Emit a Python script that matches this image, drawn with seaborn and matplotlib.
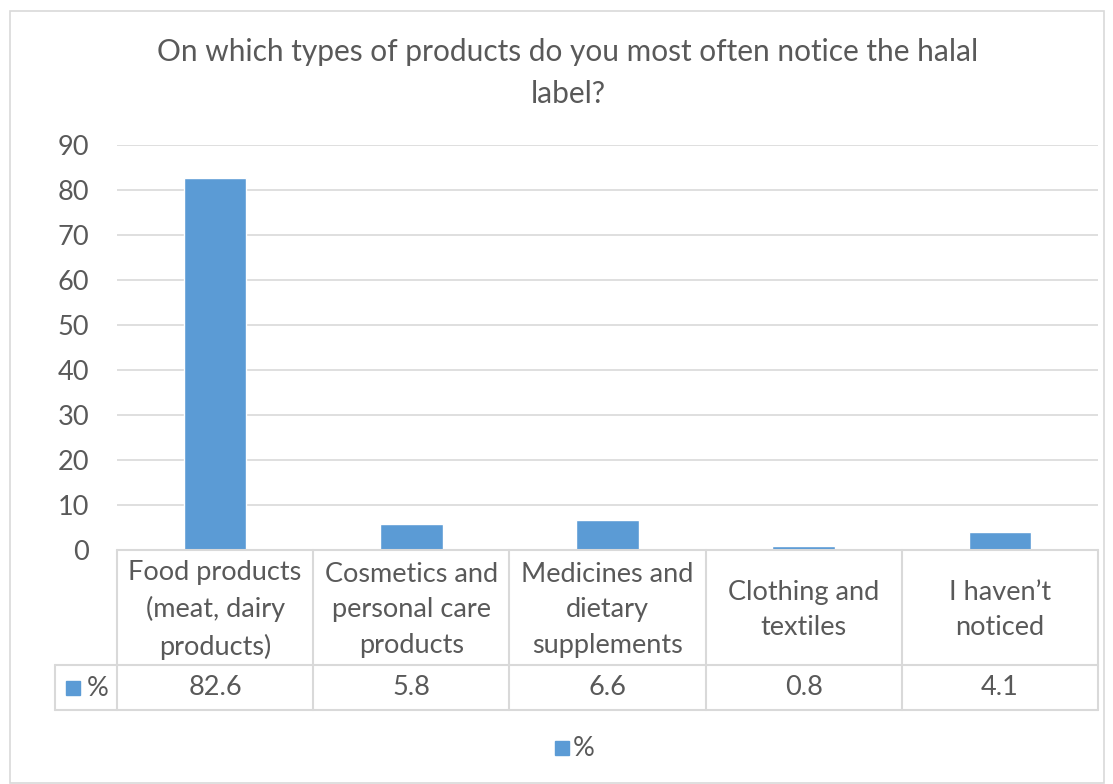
import matplotlib
matplotlib.use("Agg")
import matplotlib.pyplot as plt
import matplotlib.transforms as mtransforms
from matplotlib.lines import Line2D
from matplotlib.patches import Rectangle
import seaborn as sns
import pandas as pd

# Survey results
categories = [
    "Food products\n(meat, dairy\nproducts)",
    "Cosmetics and\npersonal care\nproducts",
    "Medicines and\ndietary\nsupplements",
    "Clothing and\ntextiles",
    "I haven\u2019t\nnoticed",
]
values = [82.6, 5.8, 6.6, 0.8, 4.1]
value_labels = ["82.6", "5.8", "6.6", "0.8", "4.1"]
series_name = "%"
title = "On which types of products do you most often notice the halal\nlabel?"
yticks = [0, 10, 20, 30, 40, 50, 60, 70, 80, 90]

BAR = "#5b9bd5"
TEXT = "#595959"
GRID = "#d9d9d9"
FS = 19.5

sns.set_theme(style="white")
plt.rcParams["font.family"] = ["Lato", "DejaVu Sans"]

W, H = 1113, 784
fig = plt.figure(figsize=(W / 100, H / 100), dpi=100)

def fx(px):
    return px / W

def fy(py):
    return 1 - py / H

# Plot area
left, right, top, bottom = 117, 1098, 145, 550
ax = fig.add_axes([fx(left), fy(bottom), fx(right - left), fy(top) - fy(bottom)])

df = pd.DataFrame({"cat": range(len(values)), "val": values})
sns.barplot(data=df, x="cat", y="val", color=BAR, width=0.32, saturation=1,
            ax=ax, order=list(range(len(values))))
ax.set_xlim(-0.5, len(values) - 0.5)
ax.set_ylim(0, 90)
ax.set_yticks(yticks)
ax.set_yticklabels([str(t) for t in yticks], fontsize=FS, color=TEXT)
ax.tick_params(axis="y", length=0, pad=20)
ax.set_xticks([])
ax.set_xlabel("")
ax.set_ylabel("")
for s in ax.spines.values():
    s.set_visible(False)
ax.grid(axis="y", color=GRID, lw=1.2)
ax.set_axisbelow(True)

# Outer chart border
fig.add_artist(Rectangle((fx(10), fy(783)), fx(1104 - 10), fy(11) - fy(783),
                         transform=fig.transFigure, fill=False,
                         edgecolor=GRID, lw=1.2))

# Title
fig.text(fx(568), fy(73), title, ha="center", va="center", fontsize=21.5,
         color=TEXT, linespacing=1.62)

# Data table below the axis
row1_top, row1_bot, row2_bot = 550, 665, 710
hdr_left = 55
gl = dict(color=GRID, lw=1.5, transform=fig.transFigure)
fig.add_artist(Line2D([fx(left), fx(right)], [fy(row1_top)] * 2, **gl))
fig.add_artist(Line2D([fx(hdr_left), fx(right)], [fy(row1_bot)] * 2, **gl))
fig.add_artist(Line2D([fx(hdr_left), fx(right)], [fy(row2_bot)] * 2, **gl))
fig.add_artist(Line2D([fx(hdr_left)] * 2, [fy(row1_bot), fy(row2_bot)], **gl))
n = len(values)
for i in range(n + 1):
    x = left + (right - left) * i / n
    fig.add_artist(Line2D([fx(x)] * 2, [fy(row1_top), fy(row2_bot)], **gl))

blend = mtransforms.blended_transform_factory(ax.transData, fig.transFigure)
for i, (cat, lab) in enumerate(zip(categories, value_labels)):
    ax.text(i, fy((row1_top + row1_bot) / 2 + 2.5), cat, transform=blend,
            ha="center", va="center", fontsize=FS, color=TEXT,
            linespacing=1.52, clip_on=False)
    ax.text(i, fy((row1_bot + row2_bot) / 2), lab, transform=blend,
            ha="center", va="center", fontsize=FS, color=TEXT, clip_on=False)

# Row header with legend key
fig.add_artist(Rectangle((fx(66), fy(695)), fx(14), fy(681) - fy(695),
                         transform=fig.transFigure, color=BAR))
fig.text(fx(98), fy(688), series_name, ha="center", va="center",
         fontsize=FS, color=TEXT)

# Legend
fig.add_artist(Rectangle((fx(555), fy(755)), fx(14), fy(741) - fy(755),
                         transform=fig.transFigure, color=BAR))
fig.text(fx(573), fy(748), series_name, ha="left", va="center",
         fontsize=FS, color=TEXT)

fig.savefig("out.png", dpi=100, facecolor="white")
